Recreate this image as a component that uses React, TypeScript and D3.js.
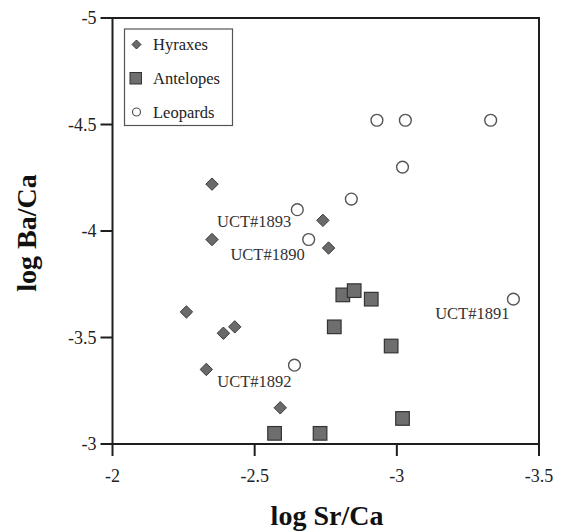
import React from "react";
import * as d3 from "d3";

// log Sr/Ca, log Ba/Ca pairs per sample group
const hyraxSr = [-2.35, -2.35, -2.74, -2.76, -2.26, -2.39, -2.43, -2.33, -2.59];
const hyraxBa = [-4.22, -3.96, -4.05, -3.92, -3.62, -3.52, -3.55, -3.35, -3.17];

const antelopeSr = [-2.57, -2.73, -3.02, -2.78, -2.98, -2.81, -2.85, -2.91];
const antelopeBa = [-3.05, -3.05, -3.12, -3.55, -3.46, -3.70, -3.72, -3.68];

const leopardSr = [-2.93, -3.03, -3.33, -3.02, -2.84, -2.65, -2.69, -3.41, -2.64];
const leopardBa = [-4.52, -4.52, -4.52, -4.30, -4.15, -4.10, -3.96, -3.68, -3.37];
const leopardIds = ["", "", "", "", "", "UCT#1893", "UCT#1890", "UCT#1891", "UCT#1892"];

const xTicks = [-2, -2.5, -3, -3.5];
const yTicks = [-3, -3.5, -4, -4.5, -5];
const legendLabels = ["Hyraxes", "Antelopes", "Leopards"];

const W = 562;
const H = 532;
const FONT = "'Liberation Serif', 'Times New Roman', serif";

// where each sample id sits relative to its point
const idOffset: Record<string, [number, number]> = {
  "UCT#1893": [-6, 17.5],
  "UCT#1890": [-4, 20.5],
  "UCT#1891": [-4, 19.5],
  "UCT#1892": [-3, 21.5],
};

const fmt = (v: number) => String(v).replace("-", "-");

export default function App() {
  const x = d3.scaleLinear().domain([-2, -3.5]).range([112.5, 539]);
  const y = d3.scaleLinear().domain([-3, -5]).range([444, 18]);

  const diamond = (r: number) => `M0,${-r}L${r},0L0,${r}L${-r},0Z`;

  const hyrax = hyraxSr.map((s, i) => ({ s, b: hyraxBa[i] }));
  const antelope = antelopeSr.map((s, i) => ({ s, b: antelopeBa[i] }));
  const leopard = leopardSr.map((s, i) => ({ s, b: leopardBa[i], id: leopardIds[i] }));

  const axisColor = "#1e1e1e";
  const [x0, x1] = x.range();
  const [yb, yt] = y.range();

  return (
    <svg
      width={W}
      height={H}
      viewBox={`0 0 ${W} ${H}`}
      style={{ position: "absolute", left: 0, top: 0, background: "#fff" }}
      fontFamily={FONT}
    >
      <rect width={W} height={H} fill="#fff" />

      {/* frame */}
      <path
        d={`M${x0},${yb}V${yt}H${x1}V${yb}Z`}
        fill="none"
        stroke={axisColor}
        strokeWidth={2}
      />

      {/* y ticks */}
      {yTicks.map((t) => (
        <g key={`y${t}`}>
          <line x1={x0 - 12} x2={x0} y1={y(t)} y2={y(t)} stroke={axisColor} strokeWidth={2} />
          <text
            x={x0 - 16}
            y={y(t)}
            dy="0.34em"
            textAnchor="end"
            fontSize={18}
            fill="#222"
          >
            {fmt(t)}
          </text>
        </g>
      ))}

      {/* x ticks */}
      {xTicks.map((t) => (
        <g key={`x${t}`}>
          <line x1={x(t)} x2={x(t)} y1={yb} y2={yb + 12} stroke={axisColor} strokeWidth={2} />
          <text x={x(t)} y={482} textAnchor="middle" fontSize={18} fill="#222">
            {fmt(t)}
          </text>
        </g>
      ))}

      {/* axis titles */}
      <text
        x={327}
        y={525}
        textAnchor="middle"
        fontSize={28}
        fontWeight="bold"
        fill="#111"
      >
        log Sr/Ca
      </text>
      <text
        transform={`translate(36,233) rotate(-90)`}
        textAnchor="middle"
        fontSize={28}
        fontWeight="bold"
        fill="#111"
      >
        log Ba/Ca
      </text>

      {/* hyraxes */}
      {hyrax.map((d, i) => (
        <path
          key={`h${i}`}
          d={diamond(6.2)}
          transform={`translate(${x(d.s)},${y(d.b)})`}
          fill="#6a6a6a"
          stroke="#3a3a3a"
          strokeWidth={1}
        />
      ))}

      {/* antelopes */}
      {antelope.map((d, i) => (
        <rect
          key={`a${i}`}
          x={x(d.s) - 6.8}
          y={y(d.b) - 6.8}
          width={13.6}
          height={13.6}
          fill="#6e6e6e"
          stroke="#333"
          strokeWidth={1.2}
        />
      ))}

      {/* leopards */}
      {leopard.map((d, i) => (
        <circle
          key={`l${i}`}
          cx={x(d.s)}
          cy={y(d.b)}
          r={5.9}
          fill="#fff"
          stroke="#555"
          strokeWidth={1.4}
        />
      ))}

      {/* sample ids */}
      {leopard
        .filter((d) => d.id)
        .map((d) => {
          const [dx, dy] = idOffset[d.id];
          return (
            <text
              key={d.id}
              x={x(d.s) + dx}
              y={y(d.b) + dy}
              textAnchor="end"
              fontSize={16.5}
              fill="#333"
            >
              {d.id}
            </text>
          );
        })}

      {/* legend */}
      <g>
        <rect x={124.5} y={29} width={108} height={96.5} fill="#fff" stroke="#555" strokeWidth={1.2} />
        {legendLabels.map((lab, i) => {
          const cy = 44.5 + i * 34;
          return (
            <g key={lab}>
              {i === 0 && (
                <path
                  d={diamond(4.5)}
                  transform={`translate(136.5,${cy})`}
                  fill="#6a6a6a"
                  stroke="#3a3a3a"
                  strokeWidth={1}
                />
              )}
              {i === 1 && (
                <rect
                  x={130}
                  y={cy - 6}
                  width={11.5}
                  height={11.5}
                  fill="#6e6e6e"
                  stroke="#333"
                  strokeWidth={1}
                />
              )}
              {i === 2 && (
                <circle cx={136.5} cy={cy - 0.5} r={4} fill="#fff" stroke="#555" strokeWidth={1.2} />
              )}
              <text x={153} y={cy + 5} fontSize={16.5} fill="#222">
                {lab}
              </text>
            </g>
          );
        })}
      </g>
    </svg>
  );
}
